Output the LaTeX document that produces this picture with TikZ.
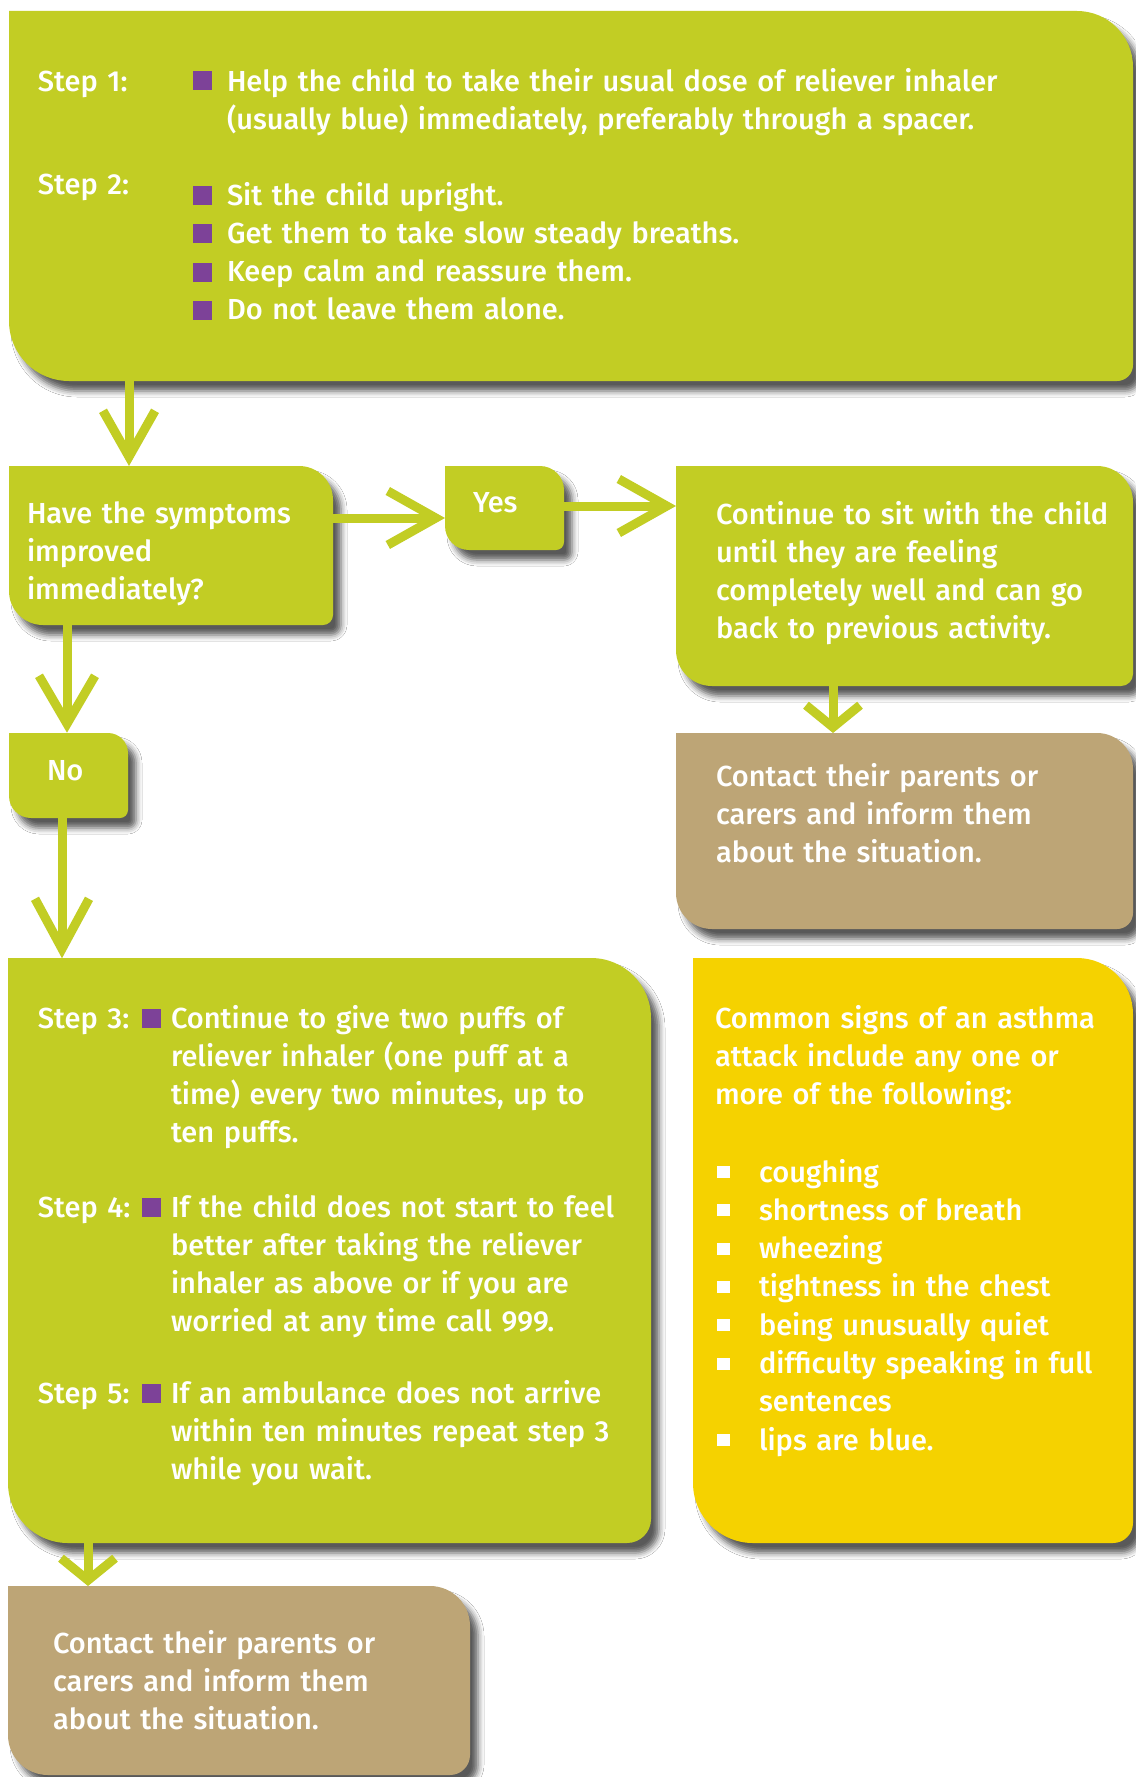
\documentclass[tikz,border=0pt]{standalone}
\usepackage{fontspec}
\setmainfont{Fira Sans Medium}
\usetikzlibrary{calc,shadows.blur}
\definecolor{lime}{RGB}{194,205,36}
\definecolor{tanbox}{RGB}{189,165,118}
\definecolor{sun}{RGB}{245,210,0}
\definecolor{plum}{RGB}{125,66,152}
\newcommand\fs{\fontsize{14.5pt}{19.15pt}\selectfont\hyphenpenalty=10000 }
% box shape: name, colour, NE radius, SE radius, SW radius
\newcommand\roundbox[5]{%
  \fill[#2, boxshadow] (#1.north west) -- ([xshift=-#3]#1.north east)
    arc[start angle=90, end angle=0, radius=#3] -- ([yshift=#4]#1.south east)
    arc[start angle=0, end angle=-90, radius=#4] -- ([xshift=#5]#1.south west)
    arc[start angle=270, end angle=180, radius=#5] -- cycle;}
% chevrons: tip, length, half width, miter offset (all px)
\newcommand\chevdown[4]{\draw[chev] ($(#1)+(-#3,-#2-#4)$) -- ($(#1)+(0,-#4)$) -- ($(#1)+(#3,-#2-#4)$);}
\newcommand\chevright[4]{\draw[chev] ($(#1)+(-#2-#4,-#3)$) -- ($(#1)+(-#4,0)$) -- ($(#1)+(-#2-#4,#3)$);}
\begin{document}
\begin{tikzpicture}[x=0.5pt, y=-0.5pt,
  boxn/.style={anchor=north west, inner sep=0pt, outer sep=0pt, draw=none},
  boxshadow/.style={blur shadow={shadow xshift=4pt, shadow yshift=-5pt, shadow blur radius=3pt, shadow opacity=65}},
  txt/.style={anchor=base west, inner sep=0pt, outer sep=0pt, text=white, font=\fs, align=left, text width=500pt},
  pbul/.style={fill=plum, minimum size=9.5pt, inner sep=0pt, outer sep=0pt},
  wbul/.style={fill=white, minimum size=6.25pt, inner sep=0pt, outer sep=0pt},
  conn/.style={draw=lime, line width=4.5pt},
  chev/.style={draw=lime, line width=4.5pt, line join=miter, miter limit=10}]
\useasboundingbox (0,0) rectangle (1135,1777);
\fill[white] (0,0) rectangle (1135,1777);

% boxes
\node[boxn, minimum width=562pt, minimum height=185pt] (top) at (9,11) {};
\node[boxn, minimum width=162pt, minimum height=79.5pt] (dec) at (9,466) {};
\node[boxn, minimum width=59.5pt, minimum height=42pt] (yes) at (445,466) {};
\node[boxn, minimum width=228.5pt, minimum height=110pt] (cont) at (676,466) {};
\node[boxn, minimum width=228.5pt, minimum height=98pt] (ctone) at (676,733) {};
\node[boxn, minimum width=59.5pt, minimum height=42.5pt] (no) at (9,733) {};
\node[boxn, minimum width=321.5pt, minimum height=292.5pt] (stepthree) at (8,958) {};
\node[boxn, minimum width=220pt, minimum height=292.5pt] (signs) at (693,958) {};
\node[boxn, minimum width=231pt, minimum height=94.5pt] (cttwo) at (8,1586) {};

\roundbox{top}{lime}{28pt}{8pt}{30pt}
\roundbox{dec}{lime}{17pt}{5pt}{17pt}
\roundbox{yes}{lime}{12pt}{4pt}{12pt}
\roundbox{cont}{lime}{18pt}{6pt}{18pt}
\roundbox{ctone}{tanbox}{18pt}{8pt}{18pt}
\roundbox{no}{lime}{10pt}{4pt}{11pt}
\roundbox{stepthree}{lime}{30pt}{12pt}{30pt}
\roundbox{signs}{sun}{28pt}{10pt}{30pt}
\roundbox{cttwo}{tanbox}{20pt}{10pt}{20pt}

% connectors
\coordinate (a1) at (129,0);
\coordinate (a2) at (0,518);
\coordinate (a3) at (0,506);
\coordinate (a4) at (67,0);
\coordinate (a5) at (62,0);
\coordinate (a6) at (833,0);
\coordinate (a7) at (88,0);
\coordinate (tip1) at (a1 |- dec.north);
\coordinate (tip2) at (yes.west |- a2);
\coordinate (tip3) at (cont.west |- a3);
\coordinate (tip4) at (a4 |- no.north);
\coordinate (tip5) at (a5 |- stepthree.north);
\coordinate (tip6) at (a6 |- ctone.north);
\coordinate (tip7) at (a7 |- cttwo.north);

\draw[conn, shorten >=4.6pt] (a1 |- top.south) -- (tip1);
\chevdown{tip1}{46}{26}{9.2}
\draw[conn, shorten >=4.6pt] (dec.east |- a2) -- (tip2);
\chevright{tip2}{48}{27}{9.2}
\draw[conn, shorten >=4.6pt] (yes.east |- a3) -- (tip3);
\chevright{tip3}{48}{27}{9.2}
\draw[conn, shorten >=4.6pt] (a4 |- dec.south) -- (tip4);
\chevdown{tip4}{48}{28}{9.2}
\draw[conn, shorten >=4.6pt] (a5 |- no.south) -- (tip5);
\chevdown{tip5}{50}{27}{9.2}
\draw[conn, shorten >=2.9pt] (a6 |- cont.south) -- (tip6);
\chevdown{tip6}{22}{27}{5.8}
\draw[conn, shorten >=2.9pt] (a7 |- stepthree.south) -- (tip7);
\chevdown{tip7}{22}{27}{5.8}

% top box text
\node[txt] (s1) at (38,91) {Step 1:};
\node[pbul] (b1) at (202.5,81) {};
\node[txt] (t1) at (227,91) {Help the child to take their usual dose of reliever inhaler\\(usually blue) immediately, preferably through a spacer.};
\node[txt] (s2) at (38,194) {Step 2:};
\node[pbul] (b2a) at (202.5,195) {};
\node[pbul] (b2b) at (202.5,233) {};
\node[pbul] (b2c) at (202.5,272) {};
\node[pbul] (b2d) at (202.5,310) {};
\node[txt] (t2) at (227,205) {Sit the child upright.\\Get them to take slow steady breaths.\\Keep calm and reassure them.\\Do not leave them alone.};

% decision and answers
\node[txt] (q) at (27,523) {Have the symptoms\\improved\\immediately?};
\node[txt] (yt) at (473,512) {Yes};
\node[txt] (nt) at (47,780) {No};
\node[txt] (ct) at (716,524) {Continue to sit with the child\\until they are feeling\\completely well and can go\\back to previous activity.};
\node[txt] (c1t) at (716,786) {Contact their parents or\\carers and inform them\\about the situation.};

% steps 3-5
\node[txt] (s3) at (38,1028) {Step 3:};
\node[pbul] (b3) at (151.5,1018) {};
\node[txt] (t3) at (171,1028) {Continue to give two puffs of\\reliever inhaler (one puff at a\\time) every two minutes, up to\\ten puffs.};
\node[txt] (s4) at (38,1217) {Step 4:};
\node[pbul] (b4) at (151.5,1207) {};
\node[txt] (t4) at (171,1217) {If the child does not start to feel\\better after taking the reliever\\inhaler as above or if you are\\worried at any time call 999.};
\node[txt] (s5) at (38,1403) {Step 5:};
\node[pbul] (b5) at (151.5,1393) {};
\node[txt] (t5) at (171,1403) {If an ambulance does not arrive\\within ten minutes repeat step 3\\while you wait.};

% signs
\node[txt] (sh) at (715,1028) {Common signs of an asthma\\attack include any one or\\more of the following:};
\node[txt] (sl) at (759,1182) {coughing\\shortness of breath\\wheezing\\tightness in the chest\\being unusually quiet\\difficulty speaking in full\\sentences\\lips are blue.};
\node[wbul] (w1) at (723.5,1172) {};
\node[wbul] (w2) at (723.5,1210) {};
\node[wbul] (w3) at (723.5,1249) {};
\node[wbul] (w4) at (723.5,1287) {};
\node[wbul] (w5) at (723.5,1325) {};
\node[wbul] (w6) at (723.5,1364) {};
\node[wbul] (w7) at (723.5,1440) {};

% bottom contact
\node[txt] (c2t) at (53,1653) {Contact their parents or\\carers and inform them\\about the situation.};
\end{tikzpicture}
\end{document}
